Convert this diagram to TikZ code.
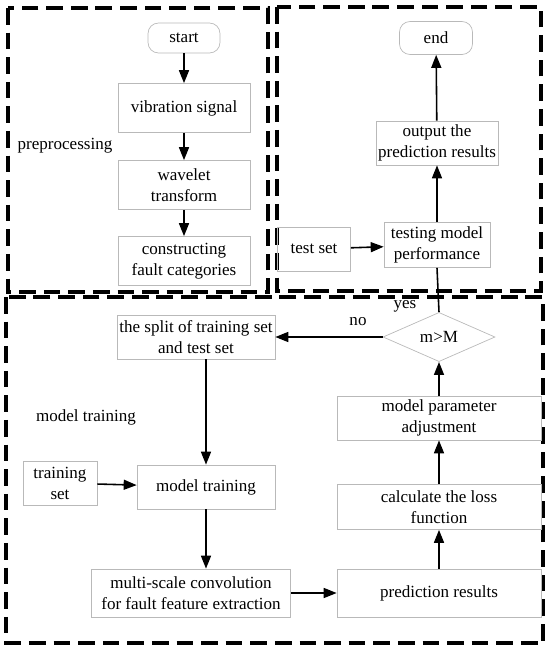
\documentclass[tikz,border=0pt]{standalone}
\usepackage{fontspec}
\setmainfont{Liberation Serif}
\usepackage{tikz}
\usetikzlibrary{arrows.meta,shapes.geometric}

\begin{document}
\begin{tikzpicture}[x=0.02cm, y=-0.02cm,
  font=\fontsize{9.7}{12}\selectfont,
  box/.style={draw=gray!55, line width=0.4pt, align=center, inner sep=1pt},
  term/.style={box, rounded corners=6pt},
  flow/.style={line width=0.9pt, -{Triangle[length=2.6mm,width=2mm]}},
  frame/.style={line width=1.9pt, dash pattern=on 9.5pt off 4.5pt}]
  \useasboundingbox (0,0) rectangle (550,650);

  % Rahmen
  \draw[frame] (8,8) rectangle (268,292);
  \draw[frame] (277,7) rectangle (541,291);
  \draw[frame] (6,297) rectangle (543,643);

  % Vorverarbeitung
  \node[term, minimum width=1.44cm, minimum height=0.6cm] (start) at (184,38) {start};
  \node[box, minimum width=2.64cm, minimum height=0.98cm] (signal) at (184,108) {vibration signal};
  \node[box, minimum width=2.64cm, minimum height=0.98cm] (wavelet) at (184,185) {wavelet\\transform};
  \node[box, minimum width=2.64cm, minimum height=0.98cm] (categ) at (184,261) {constructing\\fault categories};
  \node (prep) at (65,146) {preprocessing};

  % Test
  \node[term, minimum width=1.46cm, minimum height=0.66cm] (end) at (436,38) {end};
  \node[box, minimum width=2.44cm, minimum height=0.88cm] (output) at (437,143) {output the\\prediction results};
  \node[box, minimum width=1.46cm, minimum height=0.88cm] (testset) at (314,249) {test set};
  \node[box, minimum width=2.12cm, minimum height=0.9cm] (testing) at (437,245) {testing model\\performance};

  % Training
  \node[box, shape=diamond, minimum width=2.24cm, minimum height=0.96cm, inner sep=0pt] (check) at (439,337) {m>M};
  \node[box, minimum width=3.16cm, minimum height=0.88cm] (split) at (196,337) {the split of training set\\and test set};
  \node (train) at (86,417) {model training};
  \node[box, minimum width=1.48cm, minimum height=0.88cm] (trainset) at (60,483) {training\\set};
  \node[box, minimum width=2.76cm, minimum height=0.88cm] (mtrain) at (206,487) {model training};
  \node[box, minimum width=3.98cm, minimum height=0.96cm] (multi) at (191,593) {multi-scale convolution\\for fault feature extraction};
  \node[box, minimum width=4.08cm, minimum height=0.96cm] (pred) at (439,593) {prediction results};
  \node[box, minimum width=4.08cm, minimum height=0.9cm] (loss) at (439,507) {calculate the loss\\function};
  \node[box, minimum width=4.08cm, minimum height=0.88cm] (param) at (439,418) {model parameter\\adjustment};

  \node (yes) at (405,306) {yes};
  \node (no) at (358,322) {no};

  % Pfeile
  \draw[flow] (start) -- (signal);
  \draw[flow] (signal) -- (wavelet);
  \draw[flow] (wavelet) -- (categ);
  \draw[flow] (output) -- (end);
  \draw[flow] (testing) -- (output);
  \draw[flow] (testset) -- (testing);
  \draw[line width=0.9pt] (testing.south) -- (check.north);
  \draw[flow] (check) -- (split);
  \draw[flow] (split.south -| mtrain.north) -- (mtrain.north);
  \draw[flow] (trainset) -- (mtrain);
  \draw[flow] (mtrain.south) -- (mtrain.south |- multi.north);
  \draw[flow] (multi) -- (pred);
  \draw[flow] (pred) -- (loss);
  \draw[flow] (loss) -- (param);
  \draw[flow] (param) -- (check);
\end{tikzpicture}
\end{document}
